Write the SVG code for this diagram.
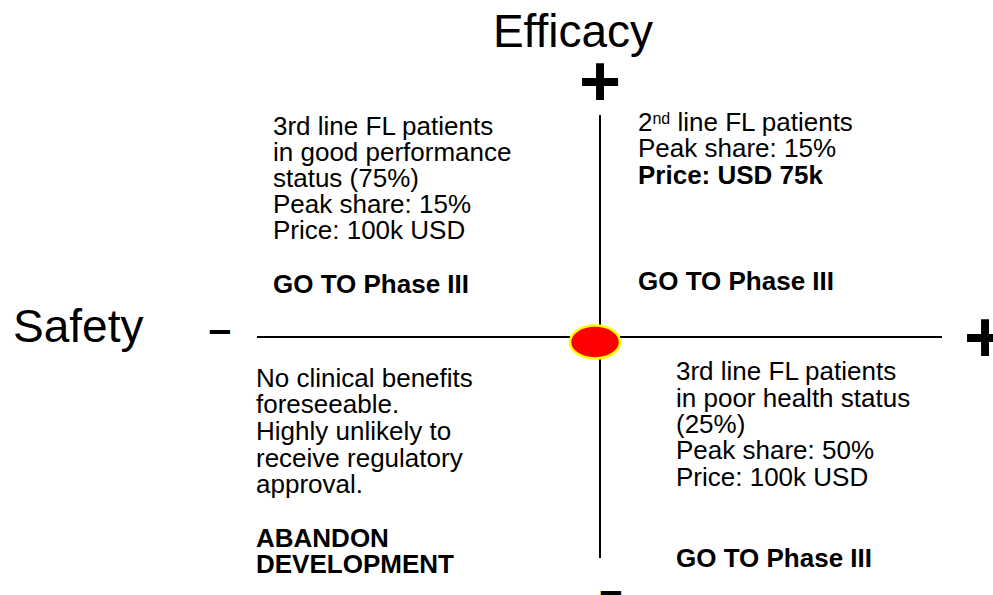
<svg xmlns="http://www.w3.org/2000/svg" width="993" height="595" viewBox="0 0 993 595">
  <style>
    .body { font-family: "Liberation Sans", Arial, sans-serif; font-size: 26px; fill: #000; }
    .bold { font-weight: bold; }
    .title { font-family: "Liberation Sans", Arial, sans-serif; font-size: 46px; fill: #000; }
    .sign { font-family: "Liberation Sans", Arial, sans-serif; font-weight: bold; fill: #000; }
    .axis { stroke: #000; stroke-width: 2; fill: none; }
  </style>
  <rect width="993" height="595" fill="#fff"/>

  <!-- axes -->
  <g id="connectors">
    <line class="axis" x1="257" y1="337" x2="942" y2="337"/>
    <line class="axis" x1="600" y1="115" x2="600" y2="558"/>
  </g>

  <!-- axis labels and end signs -->
  <g id="axis-efficacy">
    <text class="title" x="573" y="47" text-anchor="middle">Efficacy</text>
    <text class="sign" x="600" y="106" font-size="72" text-anchor="middle">+</text>
    <text class="sign" x="611" y="604" font-size="41" text-anchor="middle">–</text>
  </g>
  <g id="axis-safety">
    <text class="title" x="13" y="342">Safety</text>
    <text class="sign" x="220" y="343" font-size="41" text-anchor="middle">–</text>
    <text class="sign" x="985" y="362" font-size="72" text-anchor="middle">+</text>
  </g>

  <!-- current position marker -->
  <g id="marker">
    <ellipse cx="595" cy="342" rx="25" ry="16.5" fill="#ff0000" stroke="#ffff00" stroke-width="2.5"/>
  </g>

  <!-- quadrant: high efficacy, low safety -->
  <g id="quadrant-top-left" class="body">
    <text x="273" y="135">3rd line FL patients</text>
    <text x="273" y="161">in good performance</text>
    <text x="273" y="187">status (75%)</text>
    <text x="273" y="213">Peak share: 15%</text>
    <text x="273" y="239">Price: 100k USD</text>
    <text class="bold" x="273" y="293">GO TO Phase III</text>
  </g>

  <!-- quadrant: high efficacy, high safety -->
  <g id="quadrant-top-right" class="body">
    <text x="638" y="131">2<tspan font-size="16" dy="-7">nd</tspan><tspan dy="7"> line FL patients</tspan></text>
    <text x="638" y="157">Peak share: 15%</text>
    <text class="bold" x="638" y="184">Price: USD 75k</text>
    <text class="bold" x="638" y="290">GO TO Phase III</text>
  </g>

  <!-- quadrant: low efficacy, low safety -->
  <g id="quadrant-bottom-left" class="body">
    <text x="256" y="387">No clinical benefits</text>
    <text x="256" y="413">foreseeable.</text>
    <text x="256" y="440">Highly unlikely to</text>
    <text x="256" y="467">receive regulatory</text>
    <text x="256" y="493">approval.</text>
    <text class="bold" x="256" y="547">ABANDON</text>
    <text class="bold" x="256" y="573">DEVELOPMENT</text>
  </g>

  <!-- quadrant: low efficacy, high safety -->
  <g id="quadrant-bottom-right" class="body">
    <text x="676" y="380">3rd line FL patients</text>
    <text x="676" y="407">in poor health status</text>
    <text x="676" y="433">(25%)</text>
    <text x="676" y="459">Peak share: 50%</text>
    <text x="676" y="486">Price: 100k USD</text>
    <text class="bold" x="676" y="567">GO TO Phase III</text>
  </g>
</svg>
